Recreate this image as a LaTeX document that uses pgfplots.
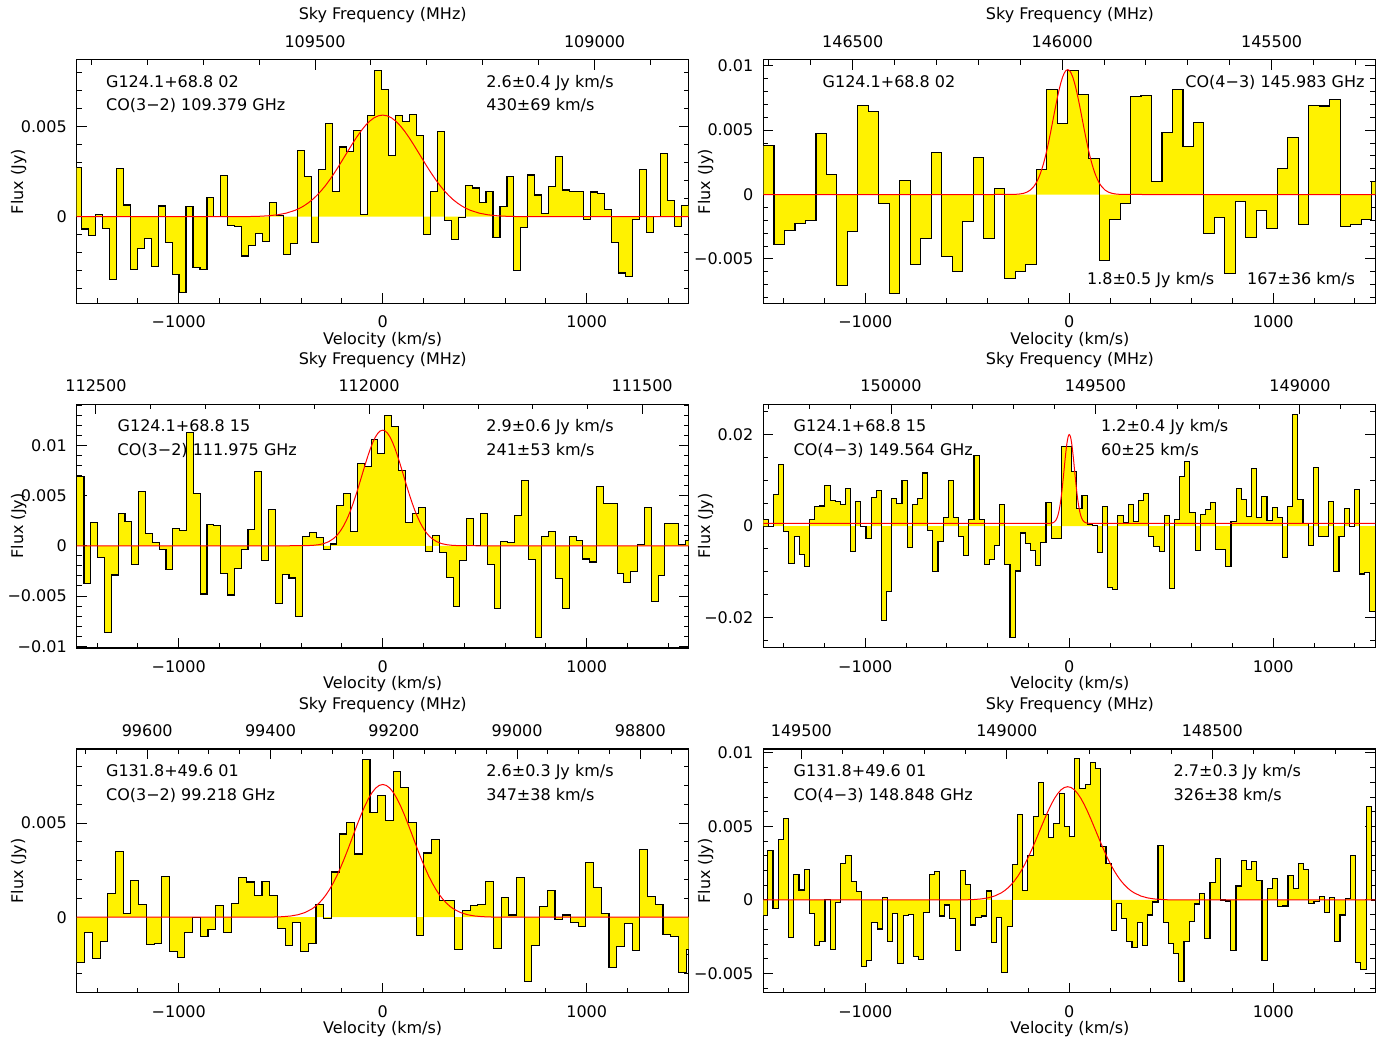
\documentclass[border=0pt]{standalone}
\usepackage{fontspec}
\setmainfont{DejaVu Sans}
\usepackage{pgfplots}
\usepackage{pgfplotstable}
\pgfplotsset{compat=1.18}

\newcommand{\tfont}{\fontsize{8pt}{9.6pt}\selectfont}

% unit gaussian profile: u = v/FWHM, g = exp(-4 ln2 u^2)
\pgfplotstableread{
u g
-40 0
-3 0
-2.5 0
-2 0.0000153
-1.8 0.000125
-1.7 0.00033
-1.6 0.00083
-1.5 0.00195
-1.4 0.00437
-1.3 0.00924
-1.2 0.01847
-1.1 0.03491
-1.0 0.0625
-0.95 0.08181
-0.9 0.10584
-0.85 0.13526
-0.8 0.16958
-0.75 0.21022
-0.7 0.25702
-0.65 0.30943
-0.6 0.36858
-0.55 0.43233
-0.5 0.5
-0.45 0.57058
-0.4 0.64172
-0.35 0.71194
-0.3 0.77916
-0.25 0.84090
-0.2 0.89495
-0.15 0.93952
-0.1 0.97265
-0.05 0.99309
0 1
0.05 0.99309
0.1 0.97265
0.15 0.93952
0.2 0.89495
0.25 0.84090
0.3 0.77916
0.35 0.71194
0.4 0.64172
0.45 0.57058
0.5 0.5
0.55 0.43233
0.6 0.36858
0.65 0.30943
0.7 0.25702
0.75 0.21022
0.8 0.16958
0.85 0.13526
0.9 0.10584
0.95 0.08181
1.0 0.0625
1.1 0.03491
1.2 0.01847
1.3 0.00924
1.4 0.00437
1.5 0.00195
1.6 0.00083
1.7 0.00033
1.8 0.000125
2 0.0000153
2.5 0
3 0
40 0
}\gauss

% TL: channel 34.2 km/s, first left edge -1511.5
\pgfplotstableread{
y
0.00273
-0.00068
-0.00105
0.00013
-0.00065
-0.00349
0.00269
0.00065
-0.00295
-0.00177
-0.0012
-0.00275
0.00059
-0.00142
-0.00321
-0.00421
0.00057
-0.00284
-0.00295
0.00107
0.0
0.00227
-0.0005
-0.00054
-0.00218
-0.00162
-0.00092
-0.00135
0.00081
0.00007
-0.00212
-0.00151
0.00367
0.00221
-0.00142
0.00264
0.00515
0.0014
0.00386
0.00363
0.0048
0.00013
0.00563
0.00812
0.00705
0.00341
0.00559
0.00526
0.00568
0.00452
-0.001
0.00138
0.00474
-0.0002
-0.00124
-0.00006
0.00175
0.00159
0.00079
0.00142
-0.00116
0.00054
0.00225
-0.00299
-0.00059
0.00231
0.0012
0.0002
0.00166
0.00336
0.00148
0.00142
0.00138
-0.00015
0.00137
0.00131
0.00039
-0.00142
-0.00312
-0.0033
-0.00015
0.00264
-0.0009
0.0
0.00349
0.00092
-0.00055
0.00061
0.00061
}\tabTL

% TR: channel 51.4 km/s, first left edge -1498.9
\pgfplotstableread{
y
0.00378
-0.00386
-0.0028
-0.00225
-0.002
0.00472
0.00155
-0.00705
-0.0029
0.00689
0.00643
-0.00073
-0.00767
0.00111
-0.00544
-0.00345
0.00326
-0.00485
-0.00601
-0.00207
0.00285
-0.00342
0.00047
-0.0065
-0.00599
-0.00544
0.00197
0.00814
0.00552
0.00966
0.00777
0.0028
-0.0051
-0.00197
-0.00067
0.00762
0.0077
0.00104
0.00482
0.00816
0.00376
0.00562
-0.00301
-0.00181
-0.00617
-0.00054
-0.00337
-0.00127
-0.00267
0.002
0.00446
-0.00231
0.00694
0.00687
0.00736
-0.00249
-0.00236
-0.00194
0.00098
0.00098
}\tabTR

% ML: channel 33.5 km/s, first left edge -1497.7
\pgfplotstableread{
y
0.00685
-0.00371
0.00235
-0.00119
-0.00867
-0.00291
0.00318
0.00245
-0.00182
0.00543
0.00119
0.0003
-0.00033
-0.00232
0.00172
0.00152
0.01126
0.00523
-0.0048
0.00209
0.00199
-0.00272
-0.0049
-0.00222
-0.00033
0.00159
0.00742
-0.00146
0.00364
-0.00573
-0.00285
-0.00321
-0.00702
0.00096
0.00136
0.00086
-0.00033
0.00017
0.00404
0.00517
0.00146
0.00818
0.00785
0.01056
0.00917
0.01298
0.01189
0.00752
0.00235
0.00321
0.00381
-0.00053
0.00099
-0.00063
-0.00315
-0.00603
-0.00149
0.00275
0.0
0.00318
-0.00185
-0.00626
0.0004
0.0003
0.00298
0.00649
-0.00139
-0.00914
0.00089
0.00146
-0.00324
-0.00622
0.00089
0.00056
-0.00132
-0.00162
0.00586
0.0042
0.0042
-0.00278
-0.00361
-0.00252
0.00013
0.00384
-0.0055
-0.00298
0.00222
0.00222
0.0001
0.0005
0.0005
}\tabML

% MR: channel 25.2 km/s, first left edge -1525.6
\pgfplotstableread{
y
0.0014
0.0014
0.0
0.0069
0.01345
-0.0011
-0.0081
-0.0023
-0.0063
-0.0089
0.0014
0.0042
0.0044
0.0089
0.0056
0.0053
0.0047
0.0082
-0.0056
0.0054
0.0
-0.0027
0.0063
0.0078
-0.0207
-0.0143
0.0061
0.0049
0.0099
-0.0046
0.0047
0.006
0.0116
-0.0009
-0.01
-0.0034
0.0018
0.0099
0.0018
-0.0023
-0.0065
0.0015
0.0155
0.0015
-0.0084
-0.0073
-0.0042
0.0047
-0.0083
-0.0243
-0.0098
-0.0015
-0.0038
-0.0053
-0.0087
-0.0036
0.0051
-0.0028
-0.0028
0.0173
0.0173
0.01186
0.00385
0.00676
0.00036
0.00022
-0.00582
0.00436
-0.01345
-0.01382
0.0024
0.00073
0.00473
0.00109
0.00567
0.00713
-0.00218
-0.00451
-0.0056
0.0024
-0.0136
0.00153
0.01076
0.01418
0.00291
-0.00538
0.00255
0.00364
0.00516
-0.00502
-0.00502
-0.00873
0.00109
0.00822
0.00589
0.00204
0.01258
0.00182
0.0064
0.00131
0.00407
0.00189
-0.00684
0.00436
0.02429
0.00589
0.00058
-0.00429
0.01273
-0.00218
-0.00218
0.00545
-0.00982
-0.00218
0.00385
-0.00015
0.008
-0.01047
-0.01011
-0.01869
-0.01869
}\tabMR

% BL: channel 37.8 km/s, first left edge -1499
\pgfplotstableread{
y
-0.00242
-0.0008
-0.00217
-0.00129
0.00125
0.0035
0.00018
0.00196
0.00069
-0.00145
-0.0014
0.00214
-0.00184
-0.00216
-0.00083
0.0
-0.00104
-0.00065
0.00064
-0.0008
0.00074
0.00212
0.00187
0.00113
0.00191
0.00113
-0.0006
-0.00152
-0.0003
-0.00184
-0.00141
0.00069
-0.00005
0.0024
0.00442
0.00504
0.00336
0.00839
0.00555
0.00648
0.00516
0.00774
0.00689
0.00504
-0.00095
0.00341
0.00413
0.0009
0.0009
-0.0017
0.00037
0.0006
0.00069
0.00189
-0.00166
0.00104
0.00012
0.00212
-0.00343
-0.00148
0.00057
0.00143
-0.00014
0.00012
-0.00028
-0.00049
0.00292
0.00157
0.00018
-0.00267
-0.00155
-0.00032
-0.00175
0.0036
0.00111
0.00067
-0.00094
-0.00102
-0.00292
-0.0017
-0.0017
}\tabBL

% BR: channel 25.5 km/s, first left edge -1503.5
\pgfplotstableread{
y
-0.00104
0.00337
-0.00059
0.00414
0.00556
-0.00253
0.00174
0.00068
0.00208
-0.0009
-0.00312
-0.00283
0.00005
-0.00335
-0.00016
0.00249
0.00305
0.00124
0.00057
-0.00455
-0.00412
-0.00152
-0.00197
0.00014
-0.00283
-0.0009
-0.0043
-0.00104
-0.001
-0.00387
-0.00405
-0.00086
0.00176
0.00195
-0.00109
-0.00034
-0.00127
-0.00344
0.00201
0.00104
-0.0017
-0.00118
-0.00109
0.00061
-0.00292
-0.00122
-0.00493
-0.00179
0.0024
0.00581
0.00063
0.00303
0.00566
0.00801
0.00581
0.00425
0.00518
0.00726
0.00502
0.0043
0.00959
0.00758
0.00787
0.00936
0.00891
0.00366
0.00247
-0.00206
-0.00025
-0.00124
-0.00285
-0.00321
-0.00156
-0.00312
-0.00102
-0.00014
0.00373
-0.00156
-0.00296
-0.00362
-0.00556
-0.00285
-0.00147
-0.00027
0.00043
-0.00262
0.0012
0.00285
0.0
-0.00007
-0.00344
0.00095
0.00267
0.0021
0.00262
0.00133
-0.00412
0.00075
0.00143
-0.00043
-0.00041
0.00167
0.00081
0.00247
0.00206
-0.00025
-0.00009
0.00025
-0.00088
0.00018
-0.00283
-0.00102
0.00009
0.00305
-0.00428
-0.00473
0.00636
0.0
0.0
}\tabBR

\pgfplotsset{
  spec/.style={
    anchor=north west, scale only axis, width=306pt, height=121.8pt,
    xmin=-1500, xmax=1500, scaled x ticks=false, scaled y ticks=false,
    xtick={-1000,0,1000}, xticklabels={−1000,0,1000},
    minor xtick={-1400,-1200,...,1400},
    xtick pos=lower, ytick pos=both, yticklabel pos=lower,
    tick align=inside, major tick length=5pt, minor tick length=2.5pt,
    axis line style={line width=0.6pt},
    every tick/.append style={line width=0.5pt, black},
    every minor tick/.append style={line width=0.5pt, black},
    tick label style={font=\tfont, inner sep=0pt},
    xticklabel style={anchor=north, yshift=-6.2pt},
    yticklabel style={anchor=east, xshift=-4.8pt},
  },
  fq/.style={
    anchor=north west, scale only axis, width=306pt, height=121.8pt,
    x dir=reverse, ymin=0, ymax=1, scaled x ticks=false,
    axis x line*=top, axis y line=none,
    tick align=inside, major tick length=5pt, minor tick length=2.5pt,
    axis line style={line width=0.6pt},
    every tick/.append style={line width=0.5pt, black},
    every minor tick/.append style={line width=0.5pt, black},
    tick label style={font=\tfont, inner sep=0pt},
    xticklabel style={anchor=south, yshift=6.0pt},
  },
  hfill/.style={draw=none, fill=yellow, const plot mark left},
  hline/.style={black, line width=0.55pt, const plot mark left},
  gfit/.style={red, line width=0.5pt},
}

\begin{document}
\begin{tikzpicture}
\tikzset{lab/.style={font=\tfont, inner sep=0pt}}

% ---------------- TL ----------------
\begin{axis}[spec, at={(38.35pt,-29.85pt)}, ymin=-0.0048, ymax=0.0087,
  ytick={0,0.005}, yticklabels={0,0.005}, minor ytick={-0.004,-0.003,...,0.008}]
\addplot[hfill] table[x expr={-1511.5+\coordindex*34.2}, y=y] {\tabTL} \closedcycle;
\addplot[hline] table[x expr={-1511.5+\coordindex*34.2}, y=y] {\tabTL};
\addplot[gfit] table[x expr={\thisrow{u}*430}, y expr={\thisrow{g}*0.00563}] {\gauss};
\end{axis}
\begin{axis}[fq, at={(38.35pt,-29.85pt)}, xmin=108831.7, xmax=109926.3,
  xtick={109000,109500}, xticklabels={109000,109500}, minor xtick={108900,109000,...,109900}]
\end{axis}

% ---------------- TR ----------------
\begin{axis}[spec, at={(381.65pt,-29.85pt)}, ymin=-0.00845, ymax=0.01047,
  ytick={-0.005,0,0.005,0.01}, yticklabels={−0.005,0,0.005,0.01}, minor ytick={-0.008,-0.007,...,0.010}]
\addplot[hfill] table[x expr={-1498.9+\coordindex*51.4}, y=y] {\tabTR} \closedcycle;
\addplot[hline] table[x expr={-1498.9+\coordindex*51.4}, y=y] {\tabTR};
\addplot[gfit] table[x expr={\thisrow{u}*167-8}, y expr={\thisrow{g}*0.0097}] {\gauss};
\end{axis}
\begin{axis}[fq, at={(381.65pt,-29.85pt)}, xmin=145252.6, xmax=146713.4,
  xtick={145500,146000,146500}, xticklabels={145500,146000,146500}, minor xtick={145300,145400,...,146700}]
\end{axis}

% ---------------- ML ----------------
\begin{axis}[spec, at={(38.35pt,-202.15pt)}, ymin=-0.01016, ymax=0.01407,
  ytick={-0.01,-0.005,0,0.005,0.01}, yticklabels={−0.01,−0.005,0,0.005,0.01}, minor ytick={-0.010,-0.009,...,0.014}]
\addplot[hfill] table[x expr={-1497.7+\coordindex*33.5}, y=y] {\tabML} \closedcycle;
\addplot[hline] table[x expr={-1497.7+\coordindex*33.5}, y=y] {\tabML};
\addplot[gfit] table[x expr={\thisrow{u}*241}, y expr={\thisrow{g}*0.0115}] {\gauss};
\end{axis}
\begin{axis}[fq, at={(38.35pt,-202.15pt)}, xmin=111414.7, xmax=112535.3,
  xtick={111500,112000,112500}, xticklabels={111500,112000,112500}, minor xtick={111500,111600,...,112500}]
\end{axis}

% ---------------- MR ----------------
\begin{axis}[spec, at={(381.65pt,-202.15pt)}, ymin=-0.0266, ymax=0.0266,
  ytick={-0.02,0,0.02}, yticklabels={−0.02,0,0.02}, minor ytick={-0.025,-0.02,...,0.025}]
\addplot[hfill] table[x expr={-1525.6+\coordindex*25.2}, y=y] {\tabMR} \closedcycle;
\addplot[hline] table[x expr={-1525.6+\coordindex*25.2}, y=y] {\tabMR};
\addplot[gfit] table[x expr={\thisrow{u}*60}, y expr={\thisrow{g}*0.0194+0.0006}] {\gauss};
\end{axis}
\begin{axis}[fq, at={(381.65pt,-202.15pt)}, xmin=148815.7, xmax=150312.3,
  xtick={149000,149500,150000}, xticklabels={149000,149500,150000}, minor xtick={148900,149000,...,150300}]
\end{axis}

% ---------------- BL ----------------
\begin{axis}[spec, at={(38.35pt,-374.45pt)}, ymin=-0.004, ymax=0.00894,
  ytick={0,0.005}, yticklabels={0,0.005}, minor ytick={-0.004,-0.003,...,0.008}]
\addplot[hfill] table[x expr={-1499+\coordindex*37.8}, y=y] {\tabBL} \closedcycle;
\addplot[hline] table[x expr={-1499+\coordindex*37.8}, y=y] {\tabBL};
\addplot[gfit] table[x expr={\thisrow{u}*347}, y expr={\thisrow{g}*0.00705}] {\gauss};
\end{axis}
\begin{axis}[fq, at={(38.35pt,-374.45pt)}, xmin=98721.6, xmax=99714.4,
  xtick={98800,99000,99200,99400,99600}, xticklabels={98800,99000,99200,99400,99600}, minor xtick={98750,98800,...,99700}]
\end{axis}

% ---------------- BR ----------------
\begin{axis}[spec, at={(381.65pt,-374.45pt)}, ymin=-0.00629, ymax=0.01027,
  ytick={-0.005,0,0.005,0.01}, yticklabels={−0.005,0,0.005,0.01}, minor ytick={-0.006,-0.005,...,0.010}]
\addplot[hfill] table[x expr={-1503.5+\coordindex*25.5}, y=y] {\tabBR} \closedcycle;
\addplot[hline] table[x expr={-1503.5+\coordindex*25.5}, y=y] {\tabBR};
\addplot[gfit] table[x expr={\thisrow{u}*326-8}, y expr={\thisrow{g}*0.0077}] {\gauss};
\end{axis}
\begin{axis}[fq, at={(381.65pt,-374.45pt)}, xmin=148103.3, xmax=149592.7,
  xtick={148500,149000,149500}, xticklabels={148500,149000,149500}, minor xtick={148200,148300,...,149500}]
\end{axis}

% ---------------- labels ----------------
\foreach \yy/\vv/\ff in {-90.75/-169.8/-7.6, -263/-342.2/-180, -435.5/-514.4/-352.5}{
  \node[lab, rotate=90] at (9.3pt,\yy pt) {Flux (Jy)};
  \node[lab, rotate=90] at (352.8pt,\yy pt) {Flux (Jy)};
  \node[lab] at (191.35pt,\vv pt) {Velocity (km/s)};
  \node[lab] at (534.95pt,\vv pt) {Velocity (km/s)};
  \node[lab] at (191.35pt,\ff pt) {Sky Frequency (MHz)};
  \node[lab] at (534.95pt,\ff pt) {Sky Frequency (MHz)};
}

% TL annotations
\node[lab, anchor=base west] at (52.85pt,-43.65pt) {G124.1+68.8 02};
\node[lab, anchor=base west] at (52.85pt,-55.35pt) {CO(3−2) 109.379 GHz};
\node[lab, anchor=base west] at (243pt,-43.65pt) {2.6±0.4 Jy km/s};
\node[lab, anchor=base west] at (243pt,-55.35pt) {430±69 km/s};
% TR annotations
\node[lab, anchor=base west] at (411.15pt,-43.65pt) {G124.1+68.8 02};
\node[lab, anchor=base east] at (682.5pt,-43.65pt) {CO(4−3) 145.983 GHz};
\node[lab, anchor=base west] at (543.35pt,-142.5pt) {1.8±0.5 Jy km/s};
\node[lab, anchor=base west] at (623.35pt,-142.5pt) {167±36 km/s};
% ML annotations
\node[lab, anchor=base west] at (58.65pt,-215.85pt) {G124.1+68.8 15};
\node[lab, anchor=base west] at (58.65pt,-227.5pt) {CO(3−2) 111.975 GHz};
\node[lab, anchor=base west] at (243pt,-215.85pt) {2.9±0.6 Jy km/s};
\node[lab, anchor=base west] at (243pt,-227.5pt) {241±53 km/s};
% MR annotations
\node[lab, anchor=base west] at (396.65pt,-215.85pt) {G124.1+68.8 15};
\node[lab, anchor=base west] at (396.65pt,-227.5pt) {CO(4−3) 149.564 GHz};
\node[lab, anchor=base west] at (550.35pt,-215.85pt) {1.2±0.4 Jy km/s};
\node[lab, anchor=base west] at (550.35pt,-227.5pt) {60±25 km/s};
% BL annotations
\node[lab, anchor=base west] at (52.85pt,-388.35pt) {G131.8+49.6 01};
\node[lab, anchor=base west] at (52.85pt,-400pt) {CO(3−2) 99.218 GHz};
\node[lab, anchor=base west] at (243pt,-388.35pt) {2.6±0.3 Jy km/s};
\node[lab, anchor=base west] at (243pt,-400pt) {347±38 km/s};
% BR annotations
\node[lab, anchor=base west] at (396.65pt,-388.35pt) {G131.8+49.6 01};
\node[lab, anchor=base west] at (396.65pt,-400pt) {CO(4−3) 148.848 GHz};
\node[lab, anchor=base west] at (586.65pt,-388.35pt) {2.7±0.3 Jy km/s};
\node[lab, anchor=base west] at (586.65pt,-400pt) {326±38 km/s};

\pgfresetboundingbox
\path[use as bounding box] (0pt,0pt) rectangle (693.5pt,-521.5pt);
\end{tikzpicture}
\end{document}
